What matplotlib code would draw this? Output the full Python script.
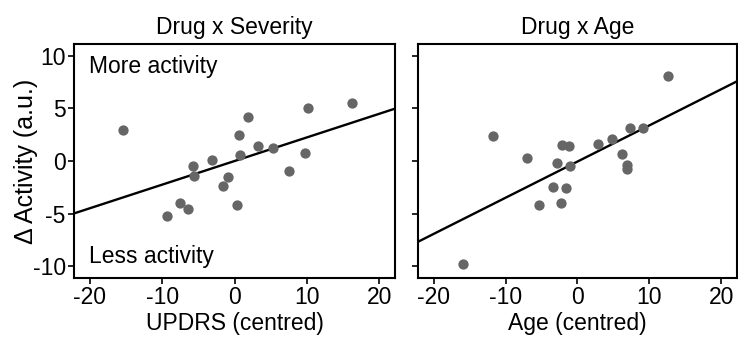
import numpy as np
import matplotlib
matplotlib.use("Agg")
import matplotlib.pyplot as plt

plt.rcParams['font.family'] = ['Liberation Sans', 'DejaVu Sans']
plt.rcParams['axes.unicode_minus'] = False

# Drug x Severity
sev_x = [-15.4, 16.3, 10.1, 1.8, 0.6, 3.2, 5.3, 0.8, -3.1, -5.75, -5.65, -0.9,
         -1.6, 7.6, 9.7, 0.4, -7.5, -6.4, -9.4]
sev_y = [2.9, 5.5, 5.0, 4.15, 2.45, 1.45, 1.2, 0.6, 0.05, -0.45, -1.4, -1.5,
         -2.35, -0.95, 0.75, -4.2, -4.0, -4.55, -5.2]
sev_fit = (0.224, 0.0)   # slope, intercept

# Drug x Age
age_x = [-15.9, -11.7, -7.0, -5.3, -3.4, -2.9, -2.3, -2.1, -1.6, -1.25, -1.0,
         2.8, 4.85, 6.2, 6.9, 6.95, 7.3, 9.1, 12.6]
age_y = [-9.8, 2.35, 0.3, -4.2, -2.5, -0.2, -3.95, 1.55, -2.55, 1.4, -0.45,
         1.6, 2.1, 0.65, -0.35, -0.75, 3.15, 3.1, 8.05]
age_fit = (0.343, -0.05)

titles = ["Drug x Severity", "Drug x Age"]
xlabels = ["UPDRS (centred)", "Age (centred)"]
xticks = [-20, -10, 0, 10, 20]
yticks = [-10, -5, 0, 5, 10]

fig = plt.figure(figsize=(7.38, 3.39), dpi=100)
ax1 = fig.add_axes([0.1003, 0.180, 0.435, 0.690])
ax2 = fig.add_axes([0.5664, 0.180, 0.4322, 0.690])

fs = 16.5
xl = (-22.2, 22.2)
for ax, xs, ys, fit, title, xlab in zip([ax1, ax2], [sev_x, age_x], [sev_y, age_y],
                                         [sev_fit, age_fit], titles, xlabels):
    ax.scatter(xs, ys, s=55, color='#666666', linewidths=0, zorder=3)
    lx = np.array(xl)
    ax.plot(lx, fit[0] * lx + fit[1], color='black', lw=1.7, zorder=2)
    ax.set_xlim(*xl)
    ax.set_ylim(-11.1, 11.1)
    ax.set_xticks(xticks)
    ax.set_yticks(yticks)
    ax.set_title(title, fontsize=fs, pad=7)
    ax.set_xlabel(xlab, fontsize=fs, labelpad=2)
    ax.tick_params(direction='out', length=4, width=1.2, labelsize=fs, pad=2)
    for sp in ax.spines.values():
        sp.set_linewidth(1.5)

# the y label in the reference is drawn a little stretched along its length
ax1.set_ylabel("\u0394 Activity (a.u.)", fontsize=18, labelpad=-4)
ax2.tick_params(axis='y', labelleft=False)

ax1.text(-20.1, 8.95, "More activity", fontsize=fs, ha='left', va='center')
ax1.text(-20.1, -9.1, "Less activity", fontsize=fs, ha='left', va='center')

fig.savefig("out.png", dpi=100)
